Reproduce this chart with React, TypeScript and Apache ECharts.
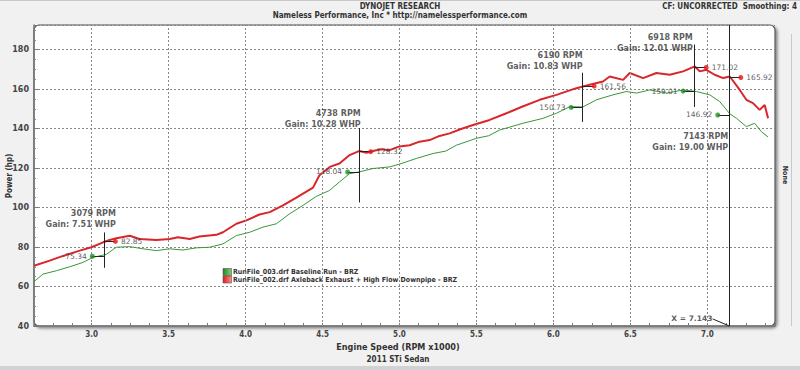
import React, { useEffect, useRef } from "react";
import * as echarts from "echarts";

// ---- curve data (RPM x1000, hp) ----
const RED_RPM = [2.625, 2.727, 2.814, 2.922, 2.998, 3.074, 3.117, 3.16, 3.247, 3.31, 3.42, 3.507, 3.56, 3.637, 3.7, 3.81, 3.853, 3.94, 4.005, 4.09, 4.157, 4.243, 4.33, 4.438, 4.48, 4.547, 4.61, 4.676, 4.74, 4.785, 4.828, 4.88, 4.936, 5.0, 5.066, 5.13, 5.196, 5.26, 5.326, 5.4, 5.478, 5.586, 5.695, 5.8, 5.911, 6.02, 6.149, 6.236, 6.322, 6.366, 6.453, 6.496, 6.583, 6.669, 6.756, 6.843, 6.919, 6.951, 6.994, 7.048, 7.103, 7.146, 7.211, 7.254, 7.297, 7.34, 7.373, 7.395];
const RED_HP = [70.5, 73.1, 75.5, 78.2, 79.9, 82.4, 83.6, 84.5, 85.7, 84.1, 83.6, 84.1, 85.0, 84.1, 85.3, 86.2, 87.5, 91.8, 93.5, 96.5, 97.7, 101.1, 105.0, 110.1, 116.4, 120.6, 122.3, 126.6, 128.7, 127.7, 128.7, 129.6, 129.1, 131.0, 131.6, 133.4, 134.2, 136.3, 137.6, 139.8, 141.8, 144.4, 147.8, 151.2, 154.6, 157.1, 160.5, 162.2, 163.9, 166.4, 164.7, 168.2, 165.6, 168.2, 167.3, 169.0, 171.5, 169.0, 169.8, 167.3, 165.6, 166.4, 159.6, 154.6, 152.9, 149.5, 152.0, 145.2];

const GREEN_RPM = [2.625, 2.684, 2.77, 2.857, 2.943, 3.008, 3.095, 3.16, 3.247, 3.333, 3.42, 3.507, 3.593, 3.68, 3.767, 3.853, 3.94, 4.027, 4.113, 4.2, 4.287, 4.373, 4.46, 4.546, 4.61, 4.676, 4.74, 4.828, 4.936, 5.0, 5.11, 5.218, 5.3, 5.37, 5.5, 5.58, 5.651, 5.802, 5.932, 6.02, 6.106, 6.192, 6.28, 6.387, 6.474, 6.54, 6.626, 6.734, 6.843, 6.93, 7.016, 7.081, 7.146, 7.19, 7.254, 7.308, 7.352, 7.395];
const GREEN_HP = [62.5, 66.3, 68.0, 70.0, 72.2, 74.8, 76.3, 79.9, 80.2, 79.1, 78.2, 79.1, 78.5, 79.6, 79.9, 81.6, 85.8, 87.5, 90.1, 91.8, 96.9, 101.1, 105.7, 108.7, 113.0, 117.2, 118.1, 119.8, 120.6, 122.0, 124.9, 127.4, 128.6, 131.6, 135.1, 136.4, 139.3, 142.7, 145.2, 147.8, 151.1, 151.0, 154.6, 157.1, 158.8, 158.0, 159.6, 158.0, 159.6, 158.8, 157.1, 153.7, 147.5, 145.2, 141.0, 142.7, 138.4, 135.8];

// ---- axes ----
const X_TICKS = [3.0, 3.5, 4.0, 4.5, 5.0, 5.5, 6.0, 6.5, 7.0];
const Y_TICKS = [40, 60, 80, 100, 120, 140, 160, 180];

// ---- cursor annotations ----
const CURSOR_RPM = [3.079, 4.738, 6.19, 6.918, 7.143];
const GAIN_WHP = [7.51, 10.28, 10.83, 12.01, 19.0];
const BASE_HP = [75.34, 118.04, 150.73, 159.01, 146.92];
const MOD_HP = [82.85, 128.32, 161.56, 171.02, 165.92];
const CURSOR_TOP = [87.4, 140.3, 168.3, 182.6, 192.5];
const CURSOR_BOTTOM = [69.5, 102.6, 143.4, 151.0, 40];
const LABEL_RPM = [3.157, 4.748, 6.19, 6.906, 7.136];
const LABEL_HP = [94.0, 144.9, 174.2, 183.6, 133.2];
const X_READOUT = "X = 7.143";

const LEGEND_NAMES = [
  "RunFile_003.drf Baseline Run - BRZ",
  "RunFile_002.drf Axleback Exhaust + High Flow Downpipe - BRZ",
];

const RED = "#d8262b";
const GREEN = "#3a963a";
const FONT = "'DejaVu Sans', sans-serif";
const COND = "'DejaVu Sans Condensed', 'Liberation Sans Narrow', 'DejaVu Sans', sans-serif";
const DOT_OFF = 0.075;
const X_MIN = 2.625;
const X_MAX = 7.44;
const Y_MIN = 40;
const Y_MAX = 192.5;

export default function App() {
  const ref = useRef<HTMLDivElement>(null);
  useEffect(() => {
    if (!ref.current) return;
    const chart = echarts.init(ref.current, undefined, { renderer: "svg" });

    const zip = (a: number[], b: number[]) => a.map((v, i) => [v, b[i]]);
    const annLines: any[] = [];
    CURSOR_RPM.forEach((c, i) => {
      annLines.push([{ coord: [c, CURSOR_TOP[i]] }, { coord: [c, CURSOR_BOTTOM[i]] }]);
      annLines.push([{ coord: [c - DOT_OFF, BASE_HP[i]] }, { coord: [c, BASE_HP[i]] }]);
      annLines.push([{ coord: [c, MOD_HP[i]] }, { coord: [c + DOT_OFF, MOD_HP[i]] }]);
    });
    annLines.push([{ coord: [7.035, 43.6] }, { coord: [7.143, 40] }]);

    const option: any = {
      animation: false,
      backgroundColor: "#f1f1f1",
      grid: { left: 34, right: 25, top: 25, bottom: 44, containLabel: false },
      xAxis: {
        type: "value",
        min: X_MIN,
        max: X_MAX,
        interval: 0.125,
        axisLine: { show: true, lineStyle: { color: "#777", width: 1.5 } },
        axisTick: { show: true, inside: true, length: 3, lineStyle: { color: "#777" } },
        axisLabel: {
          color: "#444",
          fontSize: 8,
          fontWeight: "bold",
          fontFamily: COND,
          margin: 4,
          formatter: (v: number) => (X_TICKS.some((t) => Math.abs(t - v) < 1e-6) ? v.toFixed(1) : ""),
        },
        splitLine: { show: false },
      },
      yAxis: {
        type: "value",
        min: Y_MIN,
        max: Y_MAX,
        interval: 20,
        axisLine: { show: true, lineStyle: { color: "#777", width: 1.5 } },
        axisTick: { show: true, inside: true, length: 4, lineStyle: { color: "#777" } },
        minorTick: { show: true, splitNumber: 4, length: 2, lineStyle: { color: "#888" } },
        axisLabel: {
          color: "#444",
          fontSize: 8,
          fontWeight: "bold",
          fontFamily: FONT,
          margin: 5,
          formatter: (v: number) => (Y_TICKS.includes(v) ? String(v) : ""),
        },
        splitLine: { show: true, lineStyle: { color: "#888", type: [2, 2], width: 1 } },
      },
      graphic: [
        {
          type: "rect",
          z: -1,
          shape: { x: 34, y: 25, width: 741, height: 301, r: 5 },
          style: {
            fill: "#ffffff",
            stroke: "#555",
            lineWidth: 1.2,
            shadowBlur: 3,
            shadowOffsetX: 2,
            shadowOffsetY: 2,
            shadowColor: "rgba(0,0,0,0.45)",
          },
        },
        { type: "rect", z: -1, shape: { x: 0, y: 366, width: 800, height: 4 }, style: { fill: "#d2d2d2" } },
        { type: "rect", z: -1, shape: { x: 0, y: 0, width: 800, height: 1 }, style: { fill: "#c8c8c8" } },
        { type: "line", z: -1, shape: { x1: 791.5, y1: 34, x2: 791.5, y2: 326 }, style: { stroke: "#c9c9c9", lineWidth: 1 } },
        {
          type: "text",
          x: 400,
          y: 6,
          style: { text: "DYNOJET RESEARCH", fill: "#333", font: `bold 8px ${COND}`, textAlign: "center", textVerticalAlign: "middle" },
        },
        {
          type: "text",
          x: 400,
          y: 15.5,
          style: { text: "Nameless Performance, Inc * http://namelessperformance.com", fill: "#333", font: `bold 8px ${COND}`, textAlign: "center", textVerticalAlign: "middle" },
        },
        {
          type: "text",
          x: 797,
          y: 6,
          style: { text: "CF: UNCORRECTED  Smoothing: 4", fill: "#333", font: `bold 8px ${COND}`, textAlign: "right", textVerticalAlign: "middle" },
        },
        {
          type: "text",
          x: 398,
          y: 347,
          style: { text: "Engine Speed (RPM x1000)", fill: "#333", font: `bold 9px ${COND}`, textAlign: "center", textVerticalAlign: "middle" },
        },
        {
          type: "text",
          x: 398,
          y: 359.5,
          style: { text: "2011 STi Sedan", fill: "#333", font: `bold 8px ${COND}`, textAlign: "center", textVerticalAlign: "middle" },
        },
        {
          type: "text",
          x: 9,
          y: 176,
          rotation: Math.PI / 2,
          style: { text: "Power (hp)", fill: "#333", font: `bold 8px ${COND}`, textAlign: "center", textVerticalAlign: "middle" },
        },
        {
          type: "text",
          x: 785,
          y: 175,
          rotation: -Math.PI / 2,
          style: { text: "None", fill: "#333", font: `bold 7px ${COND}`, textAlign: "center", textVerticalAlign: "middle" },
        },
        {
          type: "rect",
          shape: { x: 223, y: 268.5, width: 8.5, height: 7 },
          style: { fill: new echarts.graphic.LinearGradient(0, 0, 1, 0, [{ offset: 0, color: "#1f8a1f" }, { offset: 1, color: "#7fd07f" }]), stroke: "#555", lineWidth: 0.6 },
        },
        {
          type: "rect",
          shape: { x: 223, y: 276, width: 8.5, height: 7 },
          style: { fill: new echarts.graphic.LinearGradient(0, 0, 1, 0, [{ offset: 0, color: "#e01a1a" }, { offset: 1, color: "#ff8a8a" }]), stroke: "#555", lineWidth: 0.6 },
        },
        {
          type: "text",
          x: 233,
          y: 272,
          style: { text: LEGEND_NAMES[0], fill: "#333", font: `bold 7px ${COND}`, textAlign: "left", textVerticalAlign: "middle" },
        },
        {
          type: "text",
          x: 233,
          y: 279.5,
          style: { text: LEGEND_NAMES[1], fill: "#333", font: `bold 7px ${COND}`, textAlign: "left", textVerticalAlign: "middle" },
        },
      ],
      series: [
        {
          type: "line",
          name: "grid",
          z: 1,
          data: [[X_TICKS[0], Y_TICKS[0]]],
          showSymbol: false,
          symbolSize: 0,
          silent: true,
          lineStyle: { opacity: 0 },
          markLine: {
            silent: true,
            symbol: ["none", "none"],
            label: { show: false },
            lineStyle: { color: "#888", type: [2, 2], width: 1 },
            data: X_TICKS.map((v) => ({ xAxis: v })),
          },
        },
        {
          type: "line",
          name: LEGEND_NAMES[0],
          z: 3,
          data: zip(GREEN_RPM, GREEN_HP),
          showSymbol: false,
          lineStyle: { color: GREEN, width: 1 },
          silent: true,
        },
        {
          type: "line",
          name: LEGEND_NAMES[1],
          z: 4,
          data: zip(RED_RPM, RED_HP),
          showSymbol: false,
          lineStyle: { color: RED, width: 2 },
          silent: true,
        },
        {
          type: "line",
          name: "cursors",
          z: 5,
          data: [[X_TICKS[0], Y_TICKS[0]]],
          showSymbol: false,
          symbolSize: 0,
          lineStyle: { opacity: 0 },
          silent: true,
          markLine: {
            silent: true,
            symbol: ["none", "none"],
            label: { show: false },
            lineStyle: { color: "#222", type: "solid", width: 1 },
            data: annLines,
          },
        },
        {
          type: "scatter",
          z: 6,
          data: CURSOR_RPM.map((c, i) => [c - DOT_OFF, BASE_HP[i]]),
          symbolSize: 5,
          itemStyle: { color: "#1f8f1f" },
          silent: true,
          label: {
            show: true,
            position: "left",
            distance: 3,
            color: "#333",
            fontSize: 7.5,
            fontFamily: FONT,
            formatter: (p: any) => BASE_HP[p.dataIndex].toFixed(2),
          },
        },
        {
          type: "scatter",
          z: 6,
          data: CURSOR_RPM.map((c, i) => [c + DOT_OFF, MOD_HP[i]]),
          symbolSize: 5,
          itemStyle: { color: "#e8141c" },
          silent: true,
          label: {
            show: true,
            position: "right",
            distance: 3,
            color: "#333",
            fontSize: 7.5,
            fontFamily: FONT,
            formatter: (p: any) => MOD_HP[p.dataIndex].toFixed(2),
          },
        },
        {
          type: "scatter",
          z: 7,
          data: LABEL_RPM.map((r, i) => [r, LABEL_HP[i]]),
          symbolSize: 0,
          silent: true,
          label: {
            show: true,
            position: "left",
            distance: 0,
            color: "#333",
            fontSize: 8,
            fontWeight: "bold",
            fontFamily: FONT,
            lineHeight: 11,
            align: "right",
            formatter: (p: any) =>
              `${Math.round(CURSOR_RPM[p.dataIndex] * 1000)} RPM\nGain: ${GAIN_WHP[p.dataIndex].toFixed(2)} WHP`,
          },
        },
        {
          type: "scatter",
          z: 7,
          data: [[7.033, 43.6]],
          symbolSize: 0,
          silent: true,
          label: {
            show: true,
            position: "left",
            distance: 0,
            color: "#333",
            fontSize: 7.5,
            fontWeight: "bold",
            fontFamily: FONT,
            formatter: () => X_READOUT,
          },
        },
      ],
    };
    chart.setOption(option);
    return () => chart.dispose();
  }, []);
  return <div ref={ref} style={{ position: "fixed", left: 0, top: 0, width: 800, height: 370 }} />;
}
